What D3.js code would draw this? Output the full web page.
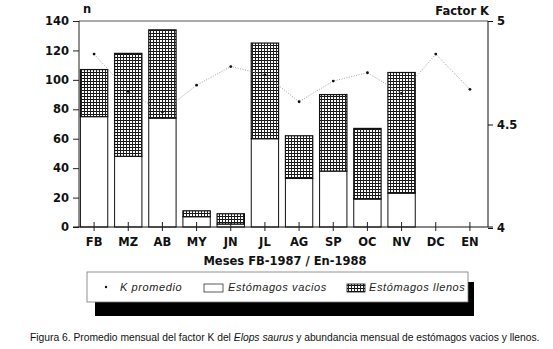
<!DOCTYPE html>
<html><head><meta charset="utf-8">
<script src="https://cdn.jsdelivr.net/npm/d3@7"></script>
<style>body{margin:0;background:#fff}svg{display:block}</style>
</head><body>
<svg id="c" width="553" height="349"></svg>
<script>
const months = ["FB","MZ","AB","MY","JN","JL","AG","SP","OC","NV","DC","EN"];
const vacios = [75,48,74,7,2,60,33,38,19,23,0,0];
const llenos = [32,70,60,4,7,65,29,52,48,82,0,0];
const factorK = [4.84,4.66,4.56,4.69,4.78,4.74,4.61,4.71,4.75,4.65,4.84,4.67];
const nTicks = [0,20,40,60,80,100,120,140];
const kTicks = [4,4.5,5];

const svg = d3.select("#c");
const L = 79, R = 488, T = 21, B = 227;
const x = d3.scaleBand().domain(months).range([77,487]).paddingInner(0.2).paddingOuter(0.1);
const y = d3.scaleLinear().domain([0,140]).range([B,T]);
const yk = d3.scaleLinear().domain([4,5]).range([B+1,T]);

const defs = svg.append("defs");
const pat = defs.append("pattern").attr("id","hatch").attr("patternUnits","userSpaceOnUse")
  .attr("width",3).attr("height",3);
pat.append("rect").attr("width",3).attr("height",3).attr("fill","#fff");
pat.append("rect").attr("width",3).attr("height",1).attr("fill","#111");
pat.append("rect").attr("width",1).attr("height",3).attr("fill","#222");

const bold = "'DejaVu Sans', sans-serif";

// bars
const data = months.map((m,i)=>({m, v:vacios[i], l:llenos[i], k:factorK[i]}));
const bars = data.filter(d=>d.v+d.l>0);
svg.append("g").selectAll("rect.v").data(bars).join("rect")
  .attr("x",d=>x(d.m)).attr("width",x.bandwidth())
  .attr("y",d=>y(d.v)).attr("height",d=>y(0)-y(d.v))
  .attr("fill","#fff").attr("stroke","#111").attr("stroke-width",1);
svg.append("g").selectAll("rect.l").data(bars).join("rect")
  .attr("x",d=>x(d.m)).attr("width",x.bandwidth())
  .attr("y",d=>y(d.v+d.l)).attr("height",d=>y(d.v)-y(d.v+d.l))
  .attr("fill","url(#hatch)").attr("stroke","#111").attr("stroke-width",1.2);

// frame
svg.append("line").attr("x1",L).attr("x2",R).attr("y1",T).attr("y2",T).attr("stroke","#555").attr("stroke-width",1);
svg.append("line").attr("x1",L).attr("x2",L).attr("y1",T).attr("y2",B).attr("stroke","#222").attr("stroke-width",1);

// left axis
const gl = svg.append("g").attr("transform",`translate(${L},0)`)
  .call(d3.axisLeft(y).tickValues(nTicks).tickSize(6).tickPadding(4));
gl.select(".domain").remove();
gl.selectAll("line").attr("stroke","#222");
gl.selectAll("text").attr("font-family",bold).attr("font-weight","bold").attr("font-size",11.5).attr("fill","#111");

// right axis
const gr = svg.append("g").attr("transform",`translate(${R},0)`)
  .call(d3.axisRight(yk).tickValues(kTicks).tickFormat(d=>d===4.5?"4.5":d3.format("d")(d)).tickSize(5).tickPadding(4));
gr.select(".domain").attr("stroke","#111").attr("d",`M0,${T}V${B}`);
gr.selectAll("line").attr("stroke","#111");
gr.selectAll("text").attr("font-family",bold).attr("font-weight","bold").attr("font-size",11.5).attr("fill","#111");

// bottom axis
const gb = svg.append("g").attr("transform",`translate(0,${B})`)
  .call(d3.axisBottom(x).tickSize(0).tickPadding(11));
gb.select(".domain").attr("d",`M73,0H493`).attr("stroke","#111");
gb.selectAll(".tick").append("line").attr("y1",-5).attr("y2",4).attr("stroke","#222");
gb.selectAll("text").attr("font-family",bold).attr("font-weight","bold").attr("font-size",11.5).attr("fill","#111");

// K line
const line = d3.line().x(d=>x(d.m)+x.bandwidth()/2).y(d=>yk(d.k));
svg.append("path").datum(data).attr("d",line).attr("fill","none")
  .attr("stroke","#888").attr("stroke-width",0.8).attr("stroke-dasharray","1,1.5");
svg.append("g").selectAll("circle").data(data).join("circle")
  .attr("cx",d=>x(d.m)+x.bandwidth()/2).attr("cy",d=>yk(d.k)).attr("r",1.4).attr("fill","#111");

// titles
svg.append("text").attr("x",83).attr("y",13).text("n")
  .attr("font-family",bold).attr("font-weight","bold").attr("font-size",11.5).attr("fill","#111");
svg.append("text").attr("x",489).attr("y",15).attr("text-anchor","end").text("Factor K")
  .attr("font-family",bold).attr("font-weight","bold").attr("font-size",11.5).attr("fill","#111");
svg.append("text").attr("x",285).attr("y",265).attr("text-anchor","middle").text("Meses FB-1987 / En-1988")
  .attr("font-family",bold).attr("font-weight","bold").attr("font-size",11.5).attr("fill","#111");

// legend
const lg = svg.append("g");
lg.append("rect").attr("x",95).attr("y",282).attr("width",379).attr("height",34).attr("fill","#000");
lg.append("rect").attr("x",87).attr("y",272).attr("width",381).attr("height",30).attr("fill","#fff").attr("stroke","#777").attr("stroke-width",0.8);
lg.append("circle").attr("cx",106).attr("cy",287).attr("r",1.2).attr("fill","#111");
const lf = "'Liberation Sans', Arial, sans-serif";
lg.append("text").attr("x",120).attr("y",291).text("K promedio")
  .attr("font-family",lf).attr("font-style","italic").attr("font-size",11).attr("letter-spacing",0.6).attr("fill","#222");
lg.append("rect").attr("x",204).attr("y",284).attr("width",19).attr("height",8).attr("fill","#fff").attr("stroke","#333").attr("stroke-width",0.8);
lg.append("text").attr("x",228).attr("y",291).text("Estómagos vacios")
  .attr("font-family",lf).attr("font-style","italic").attr("font-size",11).attr("letter-spacing",0.6).attr("fill","#222");
lg.append("rect").attr("x",347).attr("y",284).attr("width",18).attr("height",8).attr("fill","url(#hatch)").attr("stroke","#111").attr("stroke-width",0.8);
lg.append("text").attr("x",369).attr("y",291).text("Estómagos llenos")
  .attr("font-family",lf).attr("font-style","italic").attr("font-size",11).attr("letter-spacing",0.6).attr("fill","#222");

// caption
const cap = svg.append("text").attr("x",30).attr("y",341)
  .attr("font-family",lf).attr("font-size",10.3).attr("fill","#111");
cap.append("tspan").text("Figura 6. Promedio mensual del factor K del ");
cap.append("tspan").attr("font-style","italic").text("Elops saurus");
cap.append("tspan").text(" y abundancia mensual de estómagos vacios y llenos.");
</script>
</body></html>
